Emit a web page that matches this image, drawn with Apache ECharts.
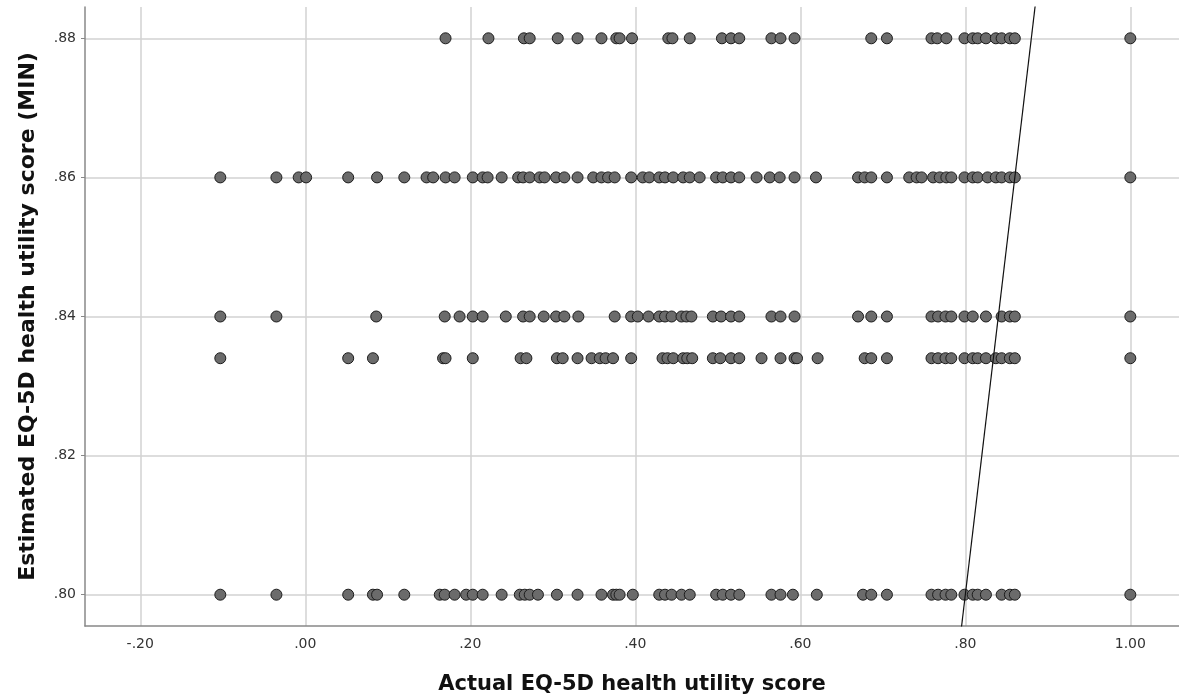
<!DOCTYPE html>
<html>
<head>
<meta charset="utf-8">
<script src="https://cdn.jsdelivr.net/npm/echarts@6/dist/echarts.min.js"></script>
<style>
  html, body { margin: 0; padding: 0; background: #fff; }
  #chart { width: 1179px; height: 698px; }
</style>
</head>
<body>
<div id="chart"></div>
<script>
// ── Data ──────────────────────────────────────────────────────────────────
// Estimated score levels (one row of points per level)
const ROW_LEVELS = [0.88, 0.86, 0.84, 0.834, 0.80];

// Actual EQ-5D scores observed at each estimated level
const actualAt88 = [0.170, 0.222, 0.265, 0.272, 0.306, 0.330, 0.359, 0.377, 0.381, 0.396,
  0.440, 0.445, 0.466, 0.505, 0.516, 0.526, 0.565, 0.576, 0.593, 0.686, 0.705,
  0.759, 0.766, 0.777, 0.799, 0.809, 0.815, 0.825, 0.837, 0.844, 0.854, 0.860, 1.0];

const actualAt86 = [-0.103, -0.035, -0.008, 0.001, 0.052, 0.087, 0.120, 0.147, 0.155, 0.170,
  0.181, 0.203, 0.215, 0.221, 0.238, 0.258, 0.264, 0.272, 0.284, 0.290, 0.304, 0.314,
  0.330, 0.349, 0.359, 0.367, 0.375, 0.395, 0.409, 0.417, 0.429, 0.436, 0.446, 0.458,
  0.466, 0.478, 0.498, 0.506, 0.516, 0.526, 0.547, 0.563, 0.575, 0.593, 0.619, 0.670,
  0.678, 0.686, 0.705, 0.732, 0.741, 0.747, 0.761, 0.769, 0.777, 0.783, 0.799, 0.809,
  0.815, 0.827, 0.837, 0.844, 0.854, 0.860, 1.0];

const actualAt84 = [-0.103, -0.035, 0.086, 0.169, 0.187, 0.203, 0.215, 0.243, 0.264, 0.272,
  0.289, 0.304, 0.314, 0.331, 0.375, 0.395, 0.403, 0.416, 0.429, 0.436, 0.444, 0.456,
  0.462, 0.468, 0.494, 0.504, 0.516, 0.526, 0.565, 0.576, 0.593, 0.670, 0.686, 0.705,
  0.759, 0.767, 0.776, 0.783, 0.799, 0.809, 0.825, 0.844, 0.854, 0.860, 1.0];

const actualAt83 = [-0.103, 0.052, 0.082, 0.167, 0.170, 0.203, 0.261, 0.268, 0.305, 0.312,
  0.330, 0.347, 0.357, 0.364, 0.373, 0.395, 0.433, 0.439, 0.446, 0.458, 0.463, 0.469,
  0.494, 0.503, 0.516, 0.526, 0.553, 0.576, 0.593, 0.596, 0.621, 0.678, 0.686, 0.705,
  0.759, 0.767, 0.776, 0.783, 0.799, 0.809, 0.815, 0.825, 0.837, 0.844, 0.854, 0.860, 1.0];

const actualAt80 = [-0.103, -0.035, 0.052, 0.082, 0.087, 0.120, 0.163, 0.169, 0.181, 0.195,
  0.203, 0.215, 0.238, 0.260, 0.266, 0.272, 0.282, 0.305, 0.330, 0.359, 0.373, 0.377,
  0.381, 0.397, 0.429, 0.436, 0.444, 0.456, 0.466, 0.498, 0.506, 0.516, 0.526, 0.565,
  0.576, 0.591, 0.620, 0.676, 0.686, 0.705, 0.759, 0.767, 0.776, 0.783, 0.799, 0.809,
  0.815, 0.825, 0.844, 0.854, 0.860, 1.0];

// Axis ticks
const xTicks = [-0.2, 0.0, 0.2, 0.4, 0.6, 0.8, 1.0];
const yTicks = [0.80, 0.82, 0.84, 0.86, 0.88];

// y = x reference line end points
const refLine = [[0.70, 0.70], [0.95, 0.95]];

// ── Build scatter points ──────────────────────────────────────────────────
const rows = [actualAt88, actualAt86, actualAt84, actualAt83, actualAt80];
const points = [];
rows.forEach((xs, i) => xs.forEach(x => points.push([x, ROW_LEVELS[i]])));

// SPSS style: drop the leading zero (.20, -.20, 1.00)
const fmt = v => v.toFixed(2).replace(/^(-?)0\./, '$1.');

const chart = echarts.init(document.getElementById('chart'), null, { renderer: 'canvas' });

chart.setOption({
  animation: false,
  backgroundColor: '#ffffff',
  // fixed plot box — keep v6 from shrinking it to fit the axis names
  grid: { left: 85, right: 0, top: 7, bottom: 72, containLabel: false, outerBoundsMode: 'none' },
  xAxis: {
    type: 'value',
    min: -0.267,
    max: 1.059,
    name: 'Actual EQ-5D health utility score',
    nameLocation: 'middle',
    nameGap: 48,
    nameTextStyle: { fontFamily: 'DejaVu Sans', fontWeight: 'bold', fontSize: 21, color: '#111' },
    axisLine: { show: true, onZero: false, lineStyle: { color: '#888', width: 1.5 } },
    axisTick: { show: false, customValues: xTicks },
    axisLabel: {
      customValues: xTicks, formatter: fmt, margin: 11,
      fontFamily: 'DejaVu Sans', fontSize: 14, color: '#333'
    },
    splitLine: { show: true, lineStyle: { color: '#d2d2d2', width: 1.5 } }
  },
  yAxis: {
    type: 'value',
    min: 0.7955,
    max: 0.8845,
    name: 'Estimated EQ-5D health utility score (MIN)',
    nameLocation: 'middle',
    nameGap: 46,
    nameTextStyle: { fontFamily: 'DejaVu Sans', fontWeight: 'bold', fontSize: 22, color: '#111' },
    axisLine: { show: true, onZero: false, lineStyle: { color: '#888', width: 1.5 } },
    axisTick: { show: true, length: 4, customValues: yTicks, lineStyle: { color: '#888' } },
    axisLabel: {
      customValues: yTicks, formatter: fmt, margin: 9,
      fontFamily: 'DejaVu Sans', fontSize: 14, color: '#333'
    },
    splitLine: { show: true, lineStyle: { color: '#d2d2d2', width: 1.5 } }
  },
  series: [
    {
      type: 'scatter',
      data: points,
      symbol: 'circle',
      symbolSize: 11,
      itemStyle: { color: '#6b6b6b', borderColor: '#1c1c1c', borderWidth: 1, opacity: 1 },
      z: 3
    },
    {
      type: 'line',
      data: refLine,
      showSymbol: false,
      clip: true,
      lineStyle: { color: '#111', width: 1.2 },
      z: 4
    }
  ]
});
</script>
</body>
</html>
